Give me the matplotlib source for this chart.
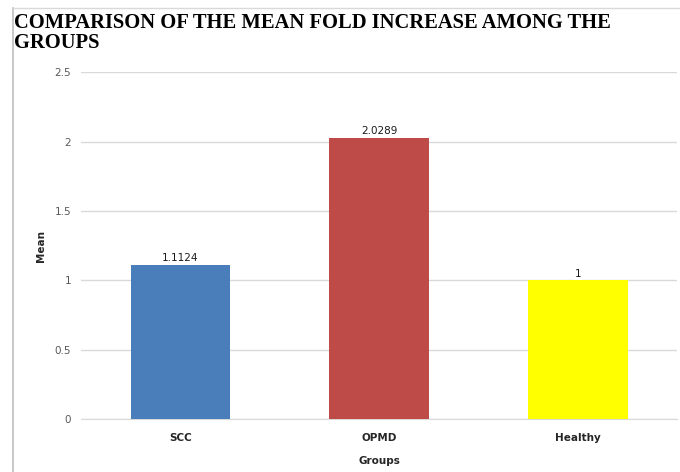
import matplotlib
matplotlib.use("Agg")
import matplotlib.pyplot as plt
from matplotlib.lines import Line2D

categories = ["SCC", "OPMD", "Healthy"]
means = [1.1124, 2.0289, 1.0]
value_labels = ["1.1124", "2.0289", "1"]
colors = ["#4a7ebb", "#be4b48", "#ffff00"]
yticks = [0, 0.5, 1, 1.5, 2, 2.5]
ytick_labels = ["0", "0.5", "1", "1.5", "2", "2.5"]

fig = plt.figure(figsize=(6.8, 4.72), dpi=100)
ax = fig.add_axes([0.119, 0.112, 0.877, 0.735])

x = range(len(categories))
ax.bar(x, means, width=0.5, color=colors, zorder=3)
ax.set_xlim(-0.5, len(categories) - 0.5)
ax.set_ylim(0, 2.5)
ax.set_yticks(yticks)
ax.set_yticklabels(ytick_labels)
ax.set_xticks(list(x))
ax.set_xticklabels(categories)
ax.grid(axis="y", color="#d9d9d9", linewidth=1, zorder=0)
for s in ["top", "right", "left"]:
    ax.spines[s].set_visible(False)
ax.spines["bottom"].set_color("#d9d9d9")
ax.tick_params(axis="both", length=0)
ax.tick_params(axis="y", labelsize=7.5, labelcolor="#595959", pad=7)
ax.tick_params(axis="x", labelsize=7.5, labelcolor="#262626", pad=10)
for lab in ax.get_xticklabels():
    lab.set_fontweight("bold")

for xi, v, t in zip(x, means, value_labels):
    ax.annotate(t, (xi, v), xytext=(0, 1), textcoords="offset points",
                ha="center", va="bottom", fontsize=7.5, color="#1a1a1a",
                zorder=5,
                bbox=dict(boxstyle="square,pad=0.1", fc="white", ec="none"))

ax.set_ylabel("Mean", fontsize=7.5, fontweight="bold", color="#262626", labelpad=6)
ax.set_xlabel("Groups", fontsize=7.5, fontweight="bold", color="#262626", labelpad=9)

fig.text(0.021, 1 - 13/472, "COMPARISON OF THE MEAN FOLD INCREASE AMONG THE\nGROUPS",
         ha="left", va="top", fontsize=14.8, fontweight="bold",
         family="Liberation Serif", linespacing=1.02, color="#000000")

fig.add_artist(Line2D([13/680, 13/680], [0, 1 - 8/472], color="#bfbfbf", lw=1.2,
                      transform=fig.transFigure))
fig.add_artist(Line2D([13/680, 1], [1 - 8/472, 1 - 8/472], color="#d9d9d9", lw=1,
                      transform=fig.transFigure))

fig.savefig("out.png", dpi=100)
